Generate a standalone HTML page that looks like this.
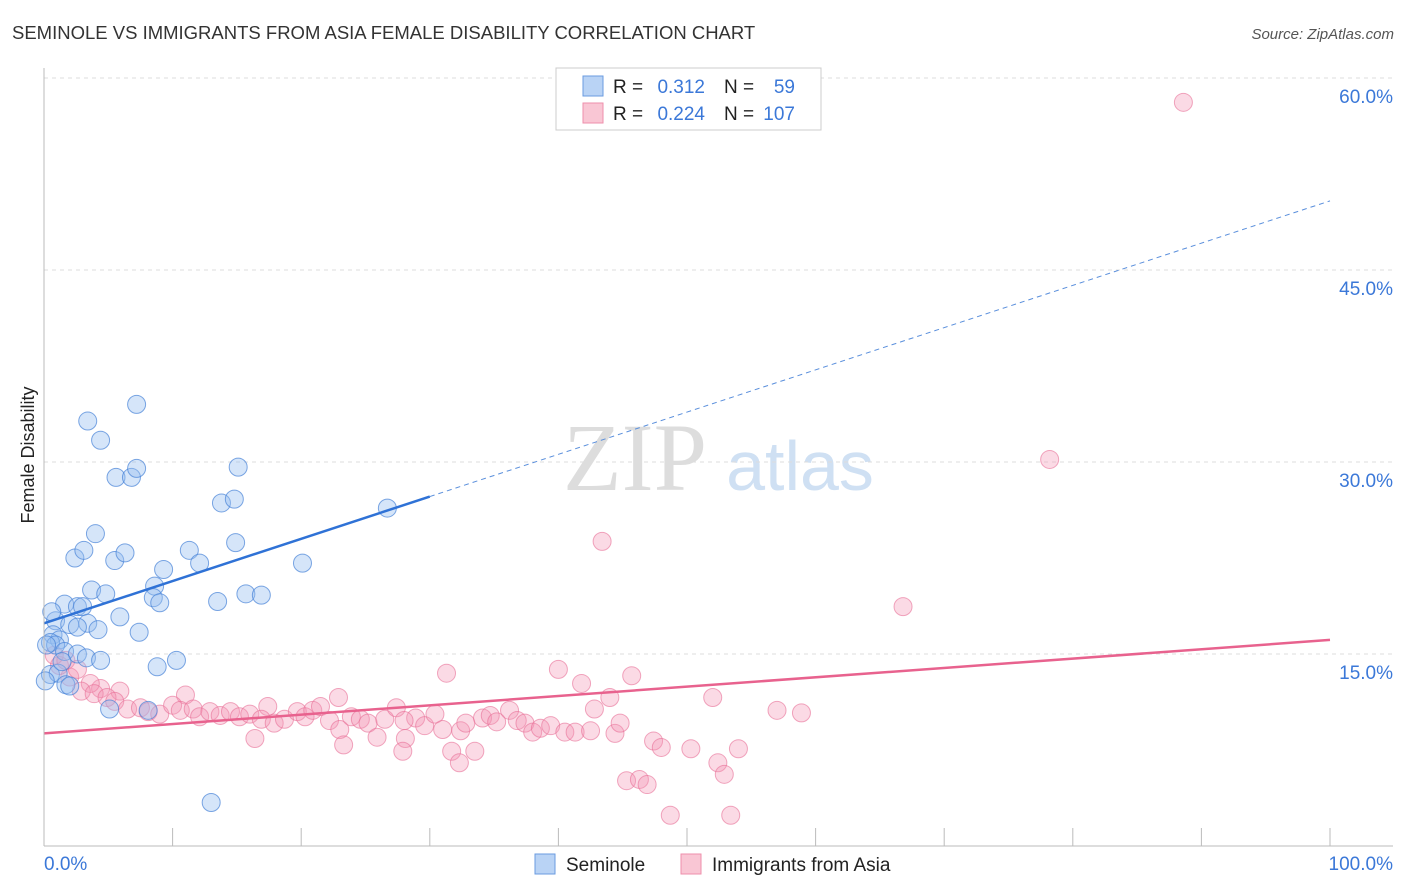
<!DOCTYPE html>
<html><head><meta charset="utf-8"><style>
body{margin:0;background:#fff;font-family:"Liberation Sans",sans-serif}
svg{display:block}
</style></head><body>
<svg id="c" width="1406" height="892">
<text x="12" y="39" font-size="18.5" fill="#333">SEMINOLE VS IMMIGRANTS FROM ASIA FEMALE DISABILITY CORRELATION CHART</text>
<text x="1394" y="39" font-size="15" fill="#555" font-style="italic" text-anchor="end">Source: ZipAtlas.com</text>
<text x="635" y="490" font-size="96" fill="#ddd" font-family="Liberation Serif" text-anchor="middle">ZIP</text>
<text x="800" y="490" font-size="70" fill="#cfe0f3" text-anchor="middle">atlas</text>
<text transform="translate(34,455) rotate(-90)" font-size="18" fill="#222" text-anchor="middle">Female Disability</text>
<g id="grid"></g><g id="pts"></g><g id="lines"></g>
<line x1="44" y1="68" x2="44" y2="846" stroke="#bbb"/>
<line x1="44" y1="846" x2="1393" y2="846" stroke="#bbb"/>
<text x="44" y="870" font-size="19" fill="#3b78d8">0.0%</text>
<text x="1393" y="870" font-size="19" fill="#3b78d8" text-anchor="end">100.0%</text>
<g>
<rect x="556" y="68" width="265" height="62" fill="#fff" stroke="#ccc"/>
<rect x="583" y="76" width="20" height="20" fill="#b9d3f5" stroke="#6a9be0"/>
<rect x="583" y="103" width="20" height="20" fill="#f9c6d4" stroke="#ee8fab"/>
<text x="613" y="93" font-size="19" fill="#222">R =</text>
<text x="705" y="93" font-size="19" fill="#3b78d8" text-anchor="end">0.312</text>
<text x="724" y="93" font-size="19" fill="#222">N =</text>
<text x="795" y="93" font-size="19" fill="#3b78d8" text-anchor="end">59</text>
<text x="613" y="120" font-size="19" fill="#222">R =</text>
<text x="705" y="120" font-size="19" fill="#3b78d8" text-anchor="end">0.224</text>
<text x="724" y="120" font-size="19" fill="#222">N =</text>
<text x="795" y="120" font-size="19" fill="#3b78d8" text-anchor="end">107</text>
</g>
<g>
<rect x="535" y="854" width="20" height="20" fill="#b9d3f5" stroke="#6a9be0"/>
<text x="566" y="871" font-size="19" fill="#222">Seminole</text>
<rect x="681" y="854" width="20" height="20" fill="#f9c6d4" stroke="#ee8fab"/>
<text x="712" y="871" font-size="19" fill="#222">Immigrants from Asia</text>
</g>
</svg>
<script>
const yTicks=[15,30,45,60];
const blueX=[3.4,7.2,4.4,5.6,6.8,7.2,15.1,13.8,14.8,26.7,4.0,2.4,3.1,5.5,6.3,14.9,11.3,12.1,9.3,20.1,8.6,3.7,4.8,8.5,9.0,13.5,15.7,16.9,1.6,2.6,3.0,5.9,0.9,2.0,3.4,7.4,2.6,4.2,0.7,1.2,0.5,0.9,1.6,2.6,3.3,0.5,1.1,8.8,5.1,10.3,1.7,2.0,0.1,8.1,13.0,0.2,1.4,0.6,4.4];
const blueY=[33.2,34.5,31.7,28.8,28.8,29.5,29.6,26.8,27.1,26.4,24.4,22.5,23.1,22.3,22.9,23.7,23.1,22.1,21.6,22.1,20.3,20.0,19.7,19.4,19.0,19.1,19.7,19.6,18.9,18.7,18.7,17.9,17.6,17.3,17.4,16.7,17.1,16.9,16.5,16.1,15.9,15.7,15.2,15.0,14.7,13.4,13.5,14.0,10.7,14.5,12.6,12.5,12.9,10.6,3.4,15.7,14.4,18.3,14.5];
const pinkX=[88.6,78.2,43.4,66.8,40.0,31.3,45.7,41.8,44.0,52.0,22.9,17.4,11.0,5.9,4.4,3.6,2.0,1.2,0.8,1.7,2.6,2.9,3.9,4.9,5.5,6.5,7.5,8.1,9.0,10.0,10.6,11.6,12.1,12.9,13.7,14.5,15.2,16.0,16.9,17.9,18.7,19.7,20.3,20.9,21.5,22.2,23.0,23.9,24.6,25.2,25.9,26.5,27.4,28.1,28.9,29.6,30.4,31.0,31.7,32.4,32.8,33.5,34.1,34.7,35.2,36.2,36.8,37.4,38.0,38.6,39.4,40.5,41.3,42.5,42.8,44.4,44.8,45.3,46.3,46.9,47.4,48.0,48.7,50.3,52.4,52.9,53.4,54.0,57.0,58.9,27.9,32.3,23.3,16.4,28.0];
const pinkY=[58.1,30.2,23.8,18.7,13.8,13.5,13.3,12.7,11.6,11.6,11.6,10.9,11.8,12.1,12.3,12.7,13.2,14.1,14.9,14.5,13.8,12.1,11.9,11.6,11.3,10.7,10.8,10.5,10.3,11.0,10.6,10.7,10.1,10.5,10.2,10.5,10.1,10.3,9.9,9.6,9.9,10.5,10.1,10.6,10.9,9.8,9.1,10.1,9.9,9.6,8.5,9.9,10.8,8.4,10.0,9.4,10.3,9.1,7.4,9.0,9.6,7.4,10.0,10.2,9.7,10.6,9.8,9.6,8.9,9.2,9.4,8.9,8.9,9.0,10.7,8.8,9.6,5.1,5.2,4.8,8.2,7.7,2.4,7.6,6.5,5.6,2.4,7.6,10.6,10.4,7.4,6.5,7.9,8.4,9.8];
const SX=v=>44+v*12.86, SY=v=>846-v*12.8;
const NS='http://www.w3.org/2000/svg';
function mk(t,a,p){const e=document.createElementNS(NS,t);for(const k in a)e.setAttribute(k,a[k]);p.appendChild(e);return e;}
const g=document.getElementById('grid');
yTicks.forEach(t=>{
 const l=mk('line',{x1:44,x2:1393,y1:SY(t),y2:SY(t),stroke:'#ddd','stroke-dasharray':'4,4'},g);
 
 
 const tx=mk('text',{x:1393,y:SY(t)+25,'font-size':19,fill:'#3b78d8','text-anchor':'end'},g);
 tx.textContent=t.toFixed(1)+'%';
 
 
});
mk('line',{x1:44,x2:1393,y1:78,y2:78,stroke:'#ddd','stroke-dasharray':'4,4'},g);
for(let i=1;i<=10;i++){
 const l=mk('line',{x1:SX(i*10),x2:SX(i*10),y1:828,y2:846,stroke:'#bbb'},g);
 
 
}
const p=document.getElementById('pts');
pinkX.forEach((x,i)=>{
 const c=mk('circle',{cx:SX(x),cy:SY(pinkY[i]),r:9,fill:'rgba(244,150,180,0.35)',stroke:'rgba(232,110,150,0.6)'},p);
 
 
});
blueX.forEach((x,i)=>{
 const c=mk('circle',{cx:SX(x),cy:SY(blueY[i]),r:9,fill:'rgba(150,190,240,0.4)',stroke:'rgba(70,130,215,0.7)'},p);
 
 
});
const L=document.getElementById('lines');
const b0=17.4,b1=0.33,p0=8.8,p1=0.073;
let e=mk('line',{x1:SX(0),y1:SY(b0),x2:SX(30),y2:SY(b0+b1*30),stroke:'#2f72d6','stroke-width':2.5},L);


e=mk('line',{x1:SX(30),y1:SY(b0+b1*30),x2:SX(100),y2:SY(b0+b1*100),stroke:'#5a8fdc','stroke-width':1,'stroke-dasharray':'5,4'},L);


e=mk('line',{x1:SX(0),y1:SY(p0),x2:SX(100),y2:SY(p0+p1*100),stroke:'#e8628e','stroke-width':2.5},L);


</script>
</body></html>
